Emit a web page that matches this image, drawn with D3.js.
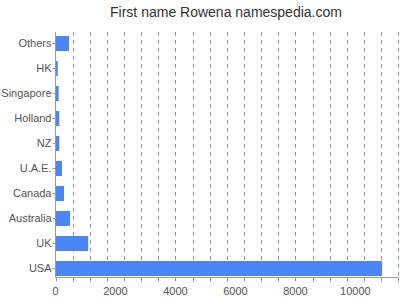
<!DOCTYPE html>
<html>
<head>
<meta charset="utf-8">
<script src="https://cdn.jsdelivr.net/npm/d3@7"></script>
<style>
  body { margin: 0; background: #fff; }
  svg { display: block; font-family: "Liberation Sans", Arial, sans-serif; }
</style>
</head>
<body>
<svg width="400" height="300"></svg>
<script>
const countries = ['Others', 'HK', 'Singapore', 'Holland', 'NZ', 'U.A.E.', 'Canada', 'Australia', 'UK', 'USA'];
const counts = [450, 75, 105, 125, 125, 215, 285, 485, 1090, 10890];
const xTickValues = [0, 2000, 4000, 6000, 8000, 10000];
const xMax = 11430;
const gridCount = 20;

const svg = d3.select('svg');
const plotLeft = 55.5, plotRight = 398.3, plotTop = 32, axisY = 277.5;

const x = d3.scaleLinear().domain([0, xMax]).range([plotLeft, plotRight]);
const y = d3.scaleBand().domain(countries).range([31, 281]).paddingInner(0.4).paddingOuter(0.2);

// title
svg.append('text')
  .attr('x', 226).attr('y', 17)
  .attr('text-anchor', 'middle')
  .attr('font-size', 14)
  .attr('fill', '#333')
  .text('First name Rowena namespedia.com');

// dashed grid, evenly split in 20
const grid = d3.range(1, gridCount + 1).map(i => i * xMax / gridCount);
svg.append('g')
  .selectAll('line')
  .data(grid)
  .enter().append('line')
  .attr('x1', d => Math.round(x(d)) + 0.5)
  .attr('x2', d => Math.round(x(d)) + 0.5)
  .attr('y1', plotTop).attr('y2', axisY)
  .attr('stroke', '#999')
  .attr('stroke-dasharray', '4,4');

// bars
svg.append('g')
  .selectAll('rect')
  .data(countries)
  .enter().append('rect')
  .attr('x', x(0))
  .attr('y', d => y(d))
  .attr('width', (d, i) => x(counts[i]) - x(0))
  .attr('height', y.bandwidth())
  .attr('fill', '#4a86f6');

// left axis
svg.append('line')
  .attr('x1', plotLeft).attr('x2', plotLeft)
  .attr('y1', plotTop).attr('y2', axisY)
  .attr('stroke', '#999');

const yLabels = svg.append('g');
yLabels.selectAll('line')
  .data(countries)
  .enter().append('line')
  .attr('x1', plotLeft - 3).attr('x2', plotLeft)
  .attr('y1', d => y(d) + y.bandwidth() / 2)
  .attr('y2', d => y(d) + y.bandwidth() / 2)
  .attr('stroke', '#999');
yLabels.selectAll('text')
  .data(countries)
  .enter().append('text')
  .attr('x', plotLeft - 4)
  .attr('y', d => y(d) + y.bandwidth() / 2)
  .attr('dy', '0.35em')
  .attr('text-anchor', 'end')
  .attr('font-size', 11)
  .attr('fill', '#555')
  .text(d => d);

// bottom axis
svg.append('line')
  .attr('x1', plotLeft).attr('x2', plotRight)
  .attr('y1', axisY).attr('y2', axisY)
  .attr('stroke', '#999');

svg.append('g')
  .selectAll('line')
  .data([0].concat(grid))
  .enter().append('line')
  .attr('x1', d => Math.round(x(d)) + 0.5)
  .attr('x2', d => Math.round(x(d)) + 0.5)
  .attr('y1', axisY).attr('y2', axisY + 4)
  .attr('stroke', '#999');

svg.append('g')
  .selectAll('text')
  .data(xTickValues)
  .enter().append('text')
  .attr('x', d => x(d))
  .attr('y', 295)
  .attr('text-anchor', 'middle')
  .attr('font-size', 11)
  .attr('fill', '#555')
  .text(d => d);
</script>
</body>
</html>
